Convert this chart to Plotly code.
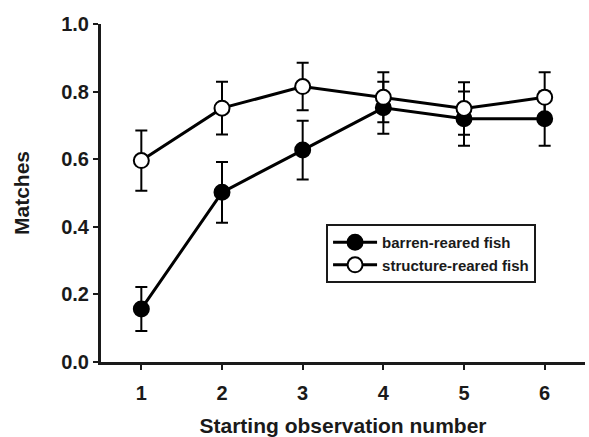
import plotly.graph_objects as go

obs = [1, 2, 3, 4, 5, 6]
barren = [0.157, 0.502, 0.627, 0.752, 0.720, 0.720]
barren_se = [0.065, 0.090, 0.087, 0.077, 0.080, 0.080]
structure = [0.596, 0.751, 0.815, 0.783, 0.750, 0.783]
structure_se = [0.089, 0.078, 0.070, 0.074, 0.078, 0.074]
y_ticks = [0.0, 0.2, 0.4, 0.6, 0.8, 1.0]
y_ticklabels = ["0.0", "0.2", "0.4", "0.6", "0.8", "1.0"]

FONT = "Liberation Sans, Arial, sans-serif"

fig = go.Figure()
fig.add_trace(go.Scatter(
    x=obs, y=barren, name="barren-reared fish", mode="lines+markers",
    line=dict(color="black", width=3),
    marker=dict(symbol="circle", size=15, color="black", line=dict(color="black", width=2)),
    error_y=dict(type="data", array=barren_se, visible=True, color="black", thickness=2, width=6),
))
fig.add_trace(go.Scatter(
    x=obs, y=structure, name="structure-reared fish", mode="lines+markers",
    line=dict(color="black", width=3),
    marker=dict(symbol="circle", size=15, color="white", line=dict(color="black", width=2)),
    error_y=dict(type="data", array=structure_se, visible=True, color="black", thickness=2, width=6),
))

fig.update_layout(
    width=589, height=437,
    margin=dict(l=101, r=4, t=24, b=75),
    paper_bgcolor="white", plot_bgcolor="white",
    font=dict(family=FONT, color="#1a1a1a", size=20, weight="bold"),
    showlegend=True,
    legend=dict(
        x=0.465, y=0.408, xanchor="left", yanchor="top",
        bordercolor="#1a1a1a", borderwidth=2, bgcolor="white",
        font=dict(family=FONT, size=15, weight="bold", color="#1a1a1a"),
        itemwidth=44, tracegroupgap=0,
    ),
    xaxis=dict(
        range=[0.5, 6.5], tickvals=obs, ticktext=[str(v) for v in obs],
        showgrid=False, zeroline=False, automargin=False,
        showline=True, linecolor="#1a1a1a", linewidth=3,
        ticks="outside", ticklen=5, tickwidth=2, tickcolor="#1a1a1a",
        ticklabelstandoff=6,
        tickfont=dict(size=20, weight="bold"),
        title=dict(text="Starting observation number", font=dict(size=21, weight="bold"), standoff=20),
    ),
    yaxis=dict(
        range=[0, 1.0], tickvals=y_ticks, ticktext=y_ticklabels,
        showgrid=False, zeroline=False, automargin=False,
        showline=True, linecolor="#1a1a1a", linewidth=3,
        ticks="outside", ticklen=5, tickwidth=2, tickcolor="#1a1a1a",
        tickfont=dict(size=20, weight="bold"),
        title=dict(text="Matches", font=dict(size=21, weight="bold"), standoff=26),
    ),
)

fig.write_html("out.html")
